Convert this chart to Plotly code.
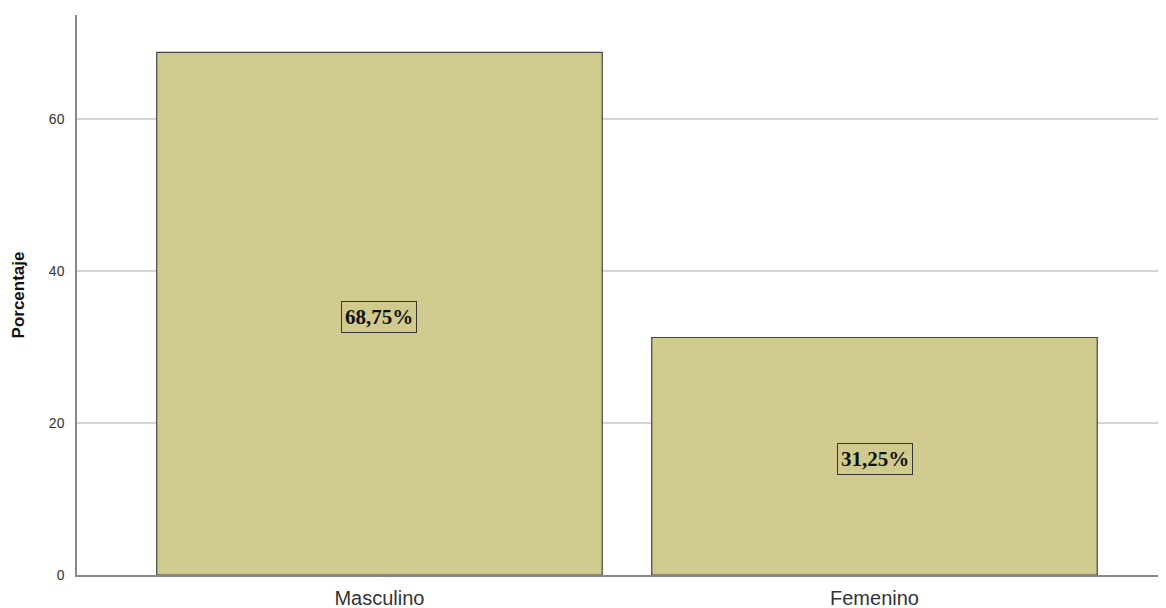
import plotly.graph_objects as go

categorias = ['Masculino', 'Femenino']
porcentajes = [68.75, 31.25]
etiquetas = ['68,75%', '31,25%']
ticks_y = [0, 20, 40, 60]

color_barra = '#d0ca8e'

fig = go.Figure(data=[
    go.Bar(
        x=categorias,
        y=porcentajes,
        width=0.9,
        marker=dict(color=color_barra, line=dict(color='#444444', width=1.2)),
        hoverinfo='skip'
    )
])

for cat, val, lab in zip(categorias, porcentajes, etiquetas):
    fig.add_annotation(
        x=cat, y=val / 2,
        text='<b>' + lab + '</b>',
        showarrow=False,
        yshift=-3,
        bordercolor='#333333',
        borderwidth=1,
        borderpad=3,
        bgcolor=color_barra,
        font=dict(family='Liberation Serif, Times New Roman, serif', size=21, color='#111111')
    )

# la pagina tiene 8px de margen en el body, se compensa aqui
fig.update_layout(
    width=1166,
    height=608,
    plot_bgcolor='white',
    paper_bgcolor='white',
    showlegend=False,
    margin=dict(l=69, r=0, t=7, b=41),
    font=dict(family='Liberation Sans, Arial, sans-serif', color='#222222'),
    xaxis=dict(
        range=[-0.611, 1.605],
        showgrid=False,
        showline=True,
        linecolor='#888888',
        linewidth=1.5,
        ticks='',
        ticklabelstandoff=4,
        tickfont=dict(size=20, color='#333333'),
    ),
    yaxis=dict(
        range=[0, 73.68],
        tickvals=ticks_y,
        showgrid=True,
        gridcolor='#d4d4d4',
        gridwidth=1.5,
        zeroline=False,
        showline=True,
        linecolor='#888888',
        linewidth=1.5,
        ticks='',
        ticklabelstandoff=8,
        tickfont=dict(size=14, color='#333333'),
        title=dict(text='<b>Porcentaje</b>', font=dict(size=17, color='#111111'), standoff=20),
    ),
)

fig.write_html("out.html")
